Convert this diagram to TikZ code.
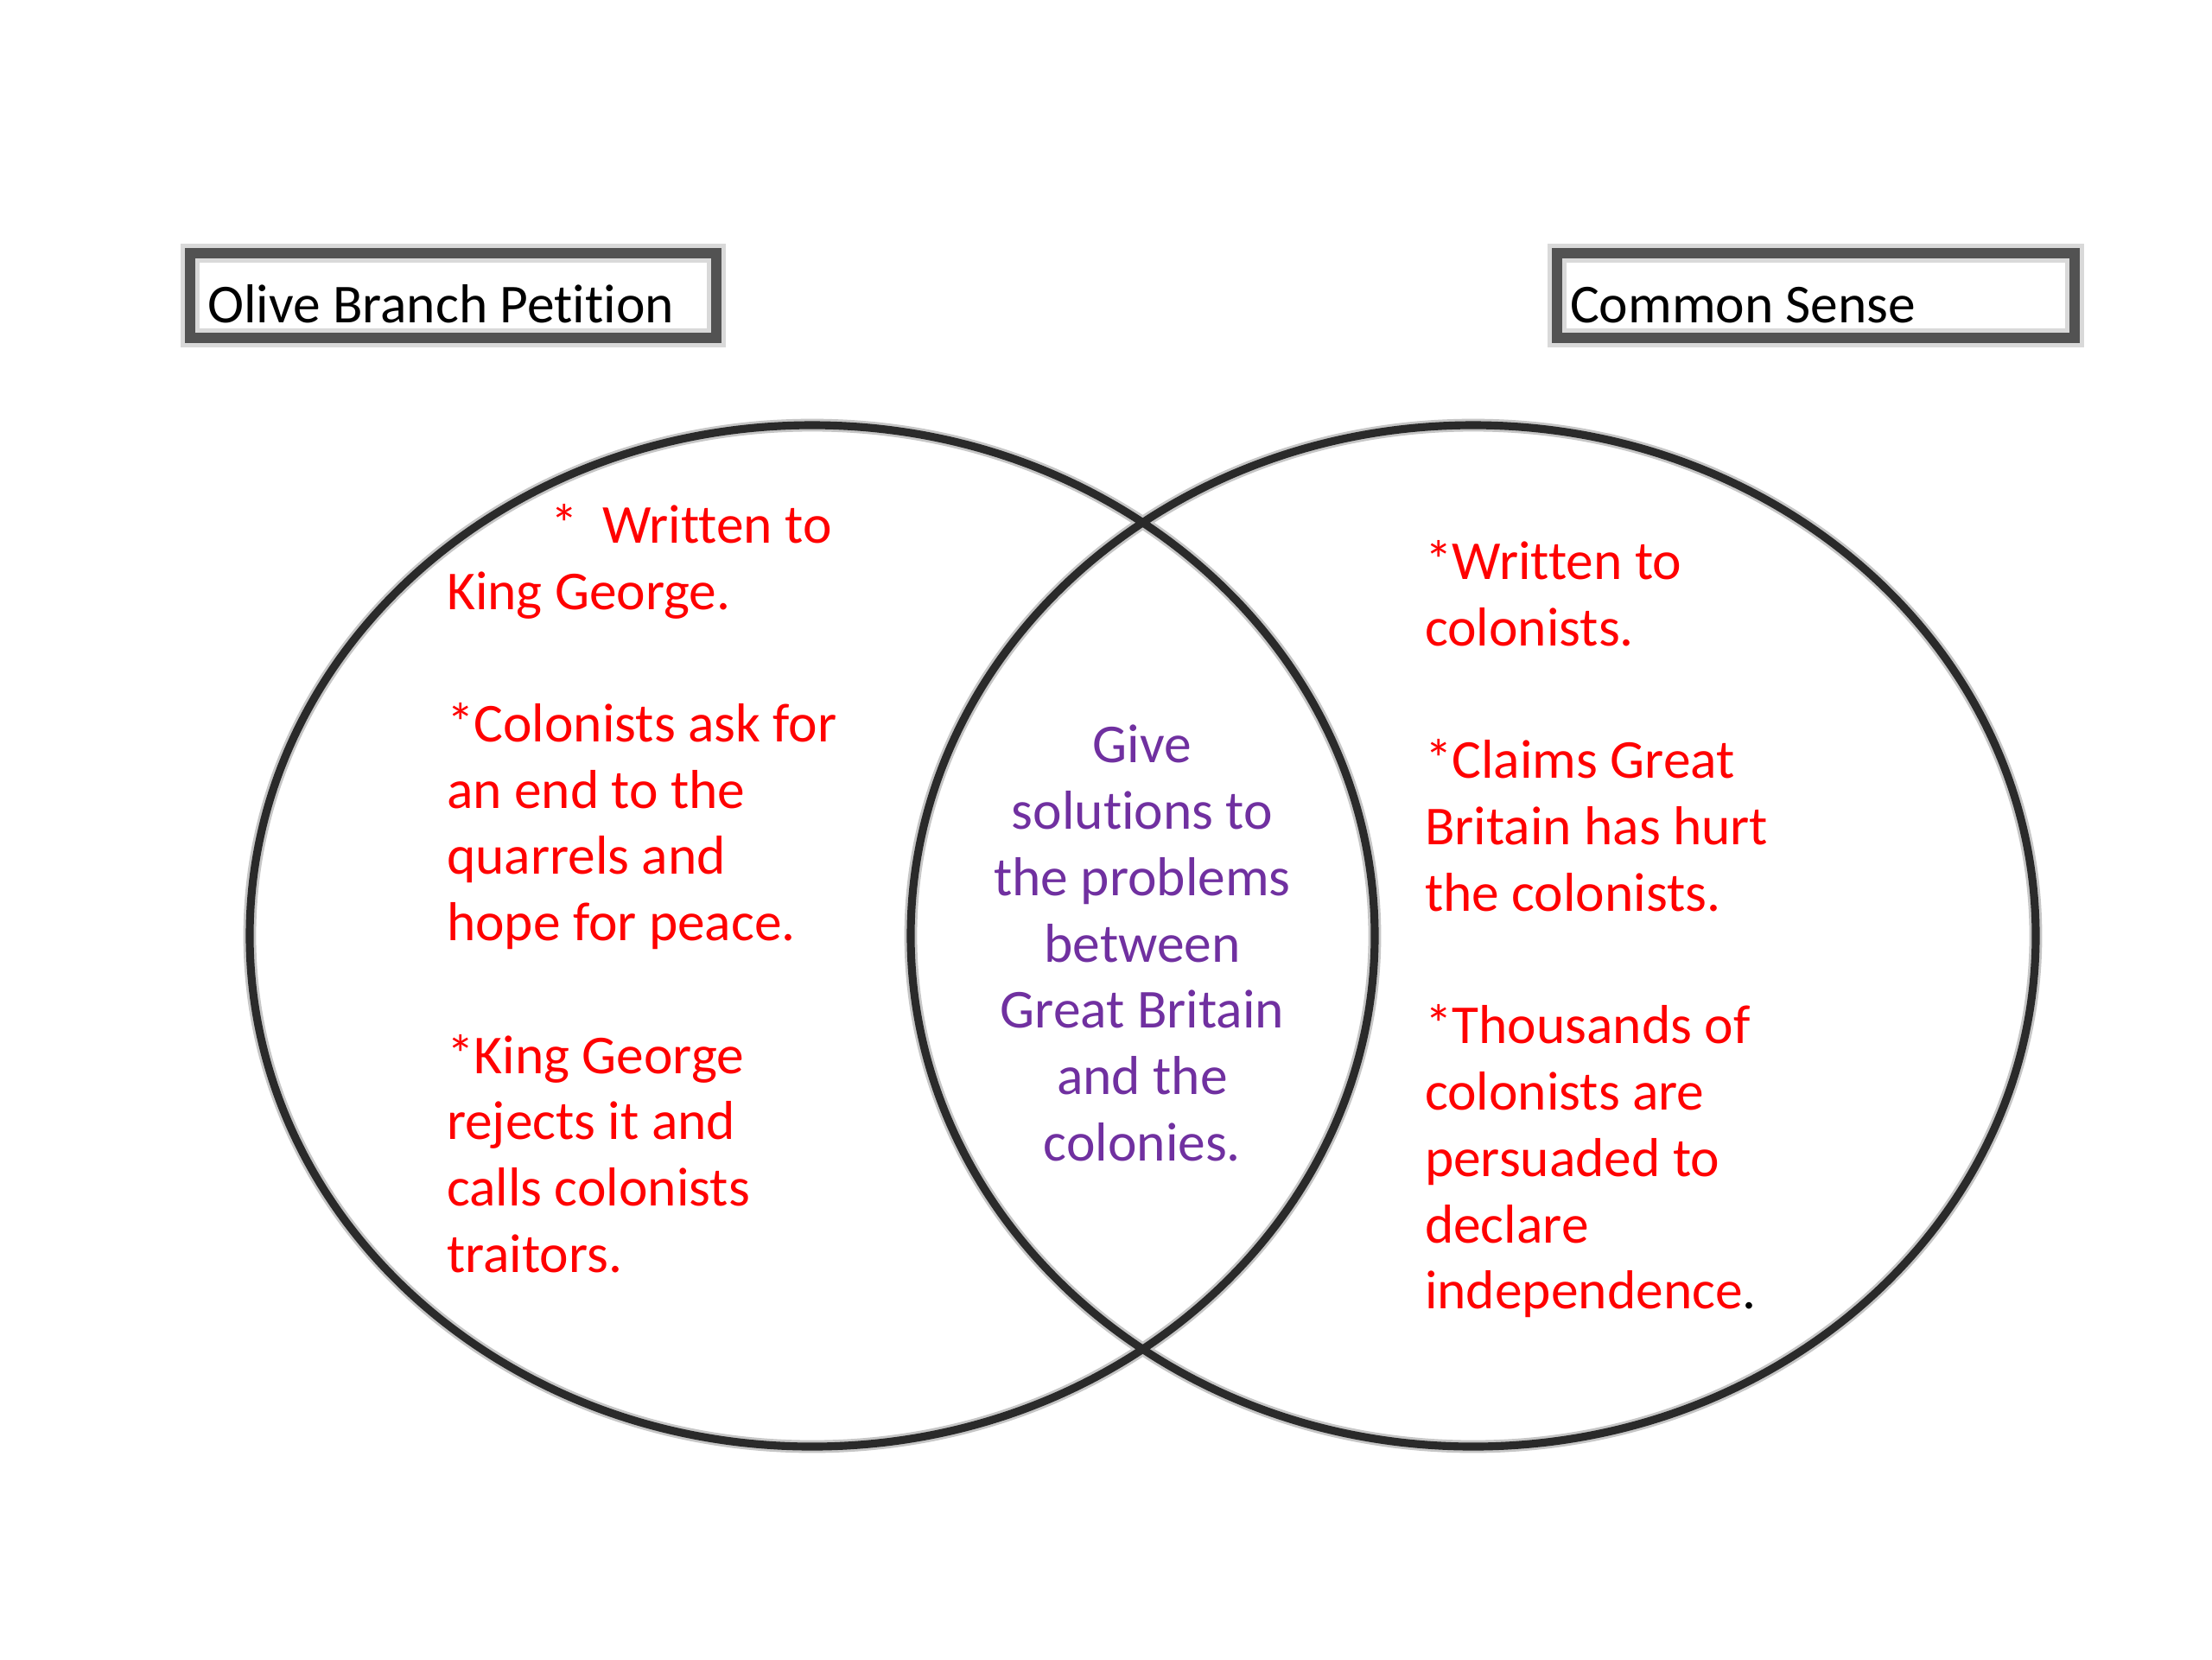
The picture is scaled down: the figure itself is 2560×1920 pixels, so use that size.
\documentclass[tikz,border=0pt]{standalone}
\usepackage{fontspec}
\setmainfont[Ligatures=NoCommon]{Carlito}
\definecolor{txtred}{HTML}{FF0000}
\definecolor{txtpurple}{HTML}{7030A0}
\definecolor{ringgray}{HTML}{2A2A2A}
\definecolor{boxgray}{HTML}{525252}
\begin{document}
\begin{tikzpicture}[x=0.01cm,y=-0.01cm,
  basefont/.style={font=\fontsize{18.05}{21.8}\selectfont, inner sep=0pt, outer sep=0pt},
  redline/.style={basefont, text=txtred, anchor=base west},
  purpleline/.style={basefont, text=txtpurple, anchor=base},
  titleline/.style={basefont, text=black, anchor=base west},
  ring/.style={draw=ringgray, line width=2.6pt},
  ringhalo/.style={draw=gray!45, line width=4.2pt},
  titlebox/.style={draw=boxgray, line width=3.6pt},
  halo/.style={draw=gray!30, line width=6.2pt}
]
\useasboundingbox (0,0) rectangle (2560,1920);
\fill[white] (0,0) rectangle (2560,1920);

% title boxes
\draw[halo] (220,293) rectangle (829,391);
\draw[titlebox] (220,293) rectangle (829,391);
\draw[halo] (1802,293) rectangle (2401,391);
\draw[titlebox] (1802,293) rectangle (2401,391);
\node[titleline] (tleft) at (240,373) {Olive Branch Petition};
\node[titleline] (tright) at (1817,373) {Common Sense};

% circles
\draw[ringhalo] (940,1083) ellipse [x radius=651, y radius=591];
\draw[ringhalo] (1705,1083) ellipse [x radius=651, y radius=591];
\draw[ring] (940,1083) ellipse [x radius=651, y radius=591];
\draw[ring] (1705,1083) ellipse [x radius=651, y radius=591];

% left text
\node[redline] (l1a) at (637,628) {*};
\node[redline] (l1b) at (697,628) {Written to};
\node[redline] (l2) at (517,705) {King George.};
\node[redline] (l3) at (517,858) {*Colonists ask for};
\node[redline] (l4) at (517,935) {an end to the};
\node[redline] (l5) at (517,1011) {quarrels and};
\node[redline] (l6) at (517,1088) {hope for peace.};
\node[redline] (l7) at (517,1242) {*King George};
\node[redline] (l8) at (517,1318) {rejects it and};
\node[redline] (l9) at (517,1395) {calls colonists};
\node[redline] (l10) at (517,1472) {traitors.};

% centre text
\node[purpleline] (c1) at (1322,882) {Give};
\node[purpleline] (c2) at (1322,959) {solutions to};
\node[purpleline] (c3) at (1322,1036) {the problems};
\node[purpleline] (c4) at (1322,1113) {between};
\node[purpleline] (c5) at (1322,1189) {Great Britain};
\node[purpleline] (c6) at (1322,1266) {and the};
\node[purpleline] (c7) at (1322,1343) {colonies.};

% right text
\node[redline] (r1) at (1649,670) {*Written to};
\node[redline] (r2) at (1649,747) {colonists.};
\node[redline] (r3) at (1649,900) {*Claims Great};
\node[redline] (r4) at (1649,977) {Britain has hurt};
\node[redline] (r5) at (1649,1054) {the colonists.};
\node[redline] (r6) at (1649,1207) {*Thousands of};
\node[redline] (r7) at (1649,1284) {colonists are};
\node[redline] (r8) at (1649,1361) {persuaded to};
\node[redline] (r9) at (1649,1438) {declare};
\node[redline] (r10) at (1649,1514) {independence{\color{black}.}};
\end{tikzpicture}
\end{document}
